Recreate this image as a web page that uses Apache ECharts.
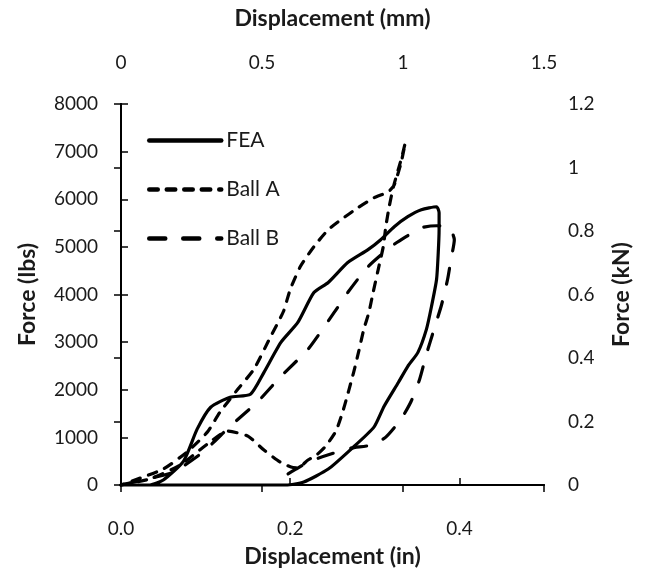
<!DOCTYPE html>
<html>
<head>
<meta charset="utf-8">
<script src="https://cdn.jsdelivr.net/npm/echarts@6/dist/echarts.min.js"></script>
<style>
  html, body { margin: 0; padding: 0; background: #fff; }
  #chart { width: 646px; height: 573px; }
</style>
</head>
<body>
<div id="chart"></div>
<script>
// FEA: loading, then unloading back to zero
const feaX = [0, 0.034, 0.050, 0.074, 0.090, 0.106, 0.129, 0.153, 0.169, 0.189, 0.209, 0.228, 0.245, 0.268, 0.292, 0.307, 0.323, 0.339, 0.355, 0.373, 0.376,
  0.376, 0.375, 0.373, 0.367, 0.361, 0.351, 0.339, 0.328, 0.311, 0.299, 0.272, 0.245, 0.216, 0.195, 0]
const feaY = [0, 0, 105, 503, 1173, 1633, 1843, 1905, 2366, 2994, 3413, 4041, 4251, 4670, 4942, 5151, 5423, 5633, 5779, 5842, 5717,
  5361, 4879, 4314, 3748, 3267, 2785, 2492, 2157, 1654, 1215, 754, 335, 63, 0, 0]

// Ball A test
const ballAX = [0, 0.034, 0.070, 0.102, 0.126, 0.150, 0.169, 0.188, 0.201, 0.209, 0.221, 0.231, 0.242, 0.254, 0.263, 0.275, 0.281, 0.287, 0.293, 0.298, 0.304, 0.310, 0.313, 0.317, 0.322, 0.331, 0.336,
  0.331, 0.323, 0.316, 0.299, 0.280, 0.260, 0.245, 0.228, 0.212, 0.200, 0.192, 0.177, 0.157, 0.138, 0.117, 0.102, 0.078, 0.050, 0.023, 0]
const ballAY = [0, 126, 419, 859, 1131, 1026, 733, 482, 377, 356, 524, 628, 817, 1131, 1591, 2366, 2806, 3267, 3623, 4041, 4523, 5005, 5423, 5842, 6261, 6826, 7182,
  6763, 6303, 6156, 6030, 5821, 5570, 5360, 5004, 4586, 4104, 3643, 3120, 2429, 2010, 1529, 1110, 691, 335, 147, 0]

// Ball B test
const ballBX = [0, 0.031, 0.062, 0.097, 0.129, 0.161, 0.189, 0.221, 0.252, 0.268, 0.292, 0.319, 0.337, 0.355, 0.373, 0.388, 0.394, 0.390, 0.386, 0.379, 0.370, 0.361, 0.353, 0.343, 0.331, 0.313, 0.296, 0.272, 0.248, 0.224, 0.207, 0.192, 0.185]
const ballBY = [0, 126, 272, 691, 1235, 1738, 2282, 2848, 3623, 4041, 4586, 5005, 5214, 5403, 5444, 5403, 5151, 4732, 4314, 3790, 3267, 2743, 2220, 1759, 1382, 1005, 838, 775, 649, 503, 335, 168, 21]

const zip = (xs, ys) => xs.map((x, i) => [x, ys[i]])

const chart = echarts.init(document.getElementById('chart'), null, { renderer: 'canvas' })

const FONT = 'Lato'
const axisLine = { lineStyle: { color: '#000', width: 2 } }
const axisTick = { inside: true, length: 7, lineStyle: { color: '#000', width: 1.5 } }
const labelStyle = { color: '#1a1a1a', fontSize: 19, fontFamily: FONT }
const nameStyle = { color: '#1a1a1a', fontSize: 23, fontWeight: 'bold', fontFamily: FONT }

function lineSeries(name, data, type) {
  return {
    name,
    type: 'line',
    data,
    symbol: 'none',
    smooth: 0.2,
    clip: false,
    lineStyle: { color: '#000', width: 3.2, type, cap: 'round', join: 'round' },
    itemStyle: { color: '#000' }
  }
}

const option = {
  backgroundColor: '#fff',
  animation: false,
  grid: { left: 121, top: 104, width: 423, height: 382 },
  legend: {
    data: ['FEA', 'Ball A', 'Ball B'],
    orient: 'vertical',
    left: 147,
    top: 130,
    padding: 0,
    itemWidth: 72,
    itemHeight: 14,
    itemGap: 28,
    itemStyle: { opacity: 0, color: 'transparent', borderWidth: 0 },
    lineStyle: { width: 4.5 },
    textStyle: { color: '#1a1a1a', fontSize: 21, fontFamily: FONT }
  },
  xAxis: [
    {
      type: 'value',
      position: 'bottom',
      min: 0, max: 0.5, interval: 0.2,
      name: 'Displacement (in)',
      nameLocation: 'middle',
      nameGap: 60,
      nameTextStyle: nameStyle,
      axisLine, axisTick,
      axisLabel: { ...labelStyle, margin: 34, showMaxLabel: false, formatter: v => v.toFixed(1) },
      splitLine: { show: false }
    },
    {
      type: 'value',
      position: 'top',
      min: 0, max: 1.5, interval: 0.5,
      name: 'Displacement (mm)',
      nameLocation: 'middle',
      nameGap: 74,
      nameTextStyle: nameStyle,
      axisLine, axisTick,
      axisLabel: { ...labelStyle, margin: 32, formatter: v => String(+v.toFixed(1)) },
      splitLine: { show: false }
    }
  ],
  yAxis: [
    {
      type: 'value',
      position: 'left',
      min: 0, max: 8000, interval: 1000,
      name: 'Force (lbs)',
      nameLocation: 'middle',
      nameGap: 82,
      nameTextStyle: nameStyle,
      axisLine, axisTick,
      axisLabel: { ...labelStyle, margin: 23, formatter: v => String(v) },
      splitLine: { show: false }
    },
    {
      type: 'value',
      position: 'right',
      min: 0, max: 1.2, interval: 0.2,
      name: 'Force (kN)',
      nameLocation: 'middle',
      nameGap: 66,
      nameTextStyle: nameStyle,
      axisLine, axisTick,
      axisLabel: { ...labelStyle, margin: 24, formatter: v => String(+v.toFixed(1)) },
      splitLine: { show: false }
    }
  ],
  series: [
    lineSeries('FEA', zip(feaX, feaY), 'solid'),
    lineSeries('Ball A', zip(ballAX, ballAY), [8.5, 9]),
    lineSeries('Ball B', zip(ballBX, ballBY), [16, 18])
  ]
}

chart.setOption(option)
window.addEventListener('resize', () => chart.resize())
</script>
</body>
</html>
